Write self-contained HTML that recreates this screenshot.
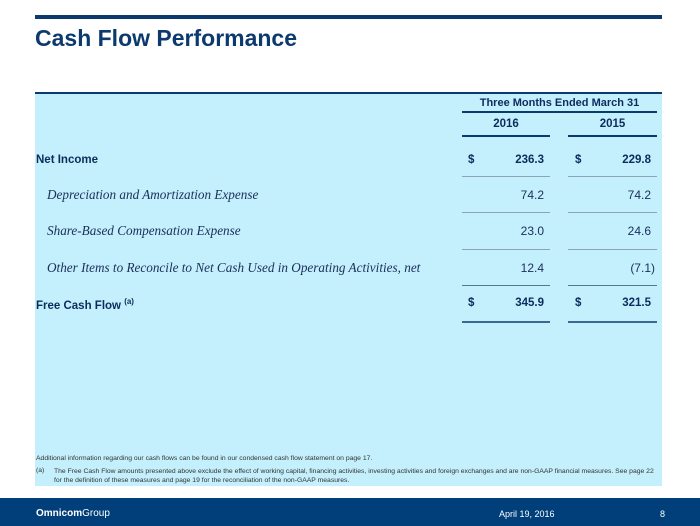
<!DOCTYPE html>
<html><head><style>
body{margin:0;width:700px;height:526px;position:relative;background:#fff;font-family:"Liberation Sans",sans-serif;overflow:hidden}
.a{position:absolute;white-space:nowrap}
.b{font-weight:bold;color:#0b2d5e;font-size:11.5px}
.i{font-family:"Liberation Serif",serif;font-style:italic;color:#1a2f5a;font-size:13.2px}
.n{font-size:12px;color:#1a2f5a;text-align:right}
.ln{position:absolute;height:1px;background:#8aa6b6}
</style></head><body>
<div class="a" style="left:35px;top:15px;width:627px;height:4px;background:#0d3a6e"></div>
<div class="a" style="left:35px;top:25px;font-size:23px;font-weight:bold;color:#0d3a6e">Cash Flow Performance</div>
<div class="a" style="left:35px;top:92px;width:627px;height:394px;background:#c4effc;border-top:2px solid #0d3a6e;box-sizing:border-box"></div>
<div class="a b" style="left:462px;top:97px;width:195px;text-align:center;font-size:11px">Three Months Ended March 31</div>
<div class="a" style="left:462px;top:111px;width:195px;height:2px;background:#0d3a6e"></div>
<div class="a b" style="left:462px;top:118px;width:88px;text-align:center">2016</div>
<div class="a b" style="left:568px;top:118px;width:89px;text-align:center">2015</div>
<div class="a" style="left:462px;top:135px;width:88px;height:2px;background:#0d3a6e"></div>
<div class="a" style="left:568px;top:135px;width:89px;height:2px;background:#0d3a6e"></div>

<div class="a b" style="left:36px;top:154px">Net Income</div>
<div class="a b" style="left:468px;top:154px">$</div><div class="a b" style="left:480px;top:154px;width:64px;text-align:right">236.3</div>
<div class="a b" style="left:575px;top:154px">$</div><div class="a b" style="left:590px;top:154px;width:61px;text-align:right">229.8</div>
<div class="ln" style="left:462px;top:176px;width:88px"></div><div class="ln" style="left:568px;top:176px;width:89px"></div>

<div class="a i" style="left:47px;top:187px">Depreciation and Amortization Expense</div>
<div class="a n" style="left:480px;top:188px;width:64px">74.2</div><div class="a n" style="left:590px;top:188px;width:61px">74.2</div>
<div class="ln" style="left:462px;top:212px;width:88px"></div><div class="ln" style="left:568px;top:212px;width:89px"></div>

<div class="a i" style="left:47px;top:223px">Share-Based Compensation Expense</div>
<div class="a n" style="left:480px;top:224px;width:64px">23.0</div><div class="a n" style="left:590px;top:224px;width:61px">24.6</div>
<div class="ln" style="left:462px;top:249px;width:88px"></div><div class="ln" style="left:568px;top:249px;width:89px"></div>

<div class="a i" style="left:47px;top:260px">Other Items to Reconcile to Net Cash Used in Operating Activities, net</div>
<div class="a n" style="left:480px;top:261px;width:64px">12.4</div><div class="a n" style="left:590px;top:261px;width:65px">(7.1)</div>
<div class="ln" style="left:462px;top:285px;width:88px;background:#4f7a8e"></div><div class="ln" style="left:568px;top:285px;width:89px;background:#4f7a8e"></div>

<div class="a b" style="left:36px;top:297px">Free Cash Flow <sup style="font-size:8px">(a)</sup></div>
<div class="a b" style="left:468px;top:297px">$</div><div class="a b" style="left:480px;top:297px;width:64px;text-align:right">345.9</div>
<div class="a b" style="left:575px;top:297px">$</div><div class="a b" style="left:590px;top:297px;width:61px;text-align:right">321.5</div>
<div class="a" style="left:462px;top:321px;width:88px;height:2px;background:#3a6a90"></div><div class="a" style="left:568px;top:321px;width:89px;height:2px;background:#3a6a90"></div>

<div class="a" style="left:36px;top:455px;font-size:6.8px;color:#333">Additional information regarding our cash flows can be found in our condensed cash flow statement on page 17.</div>
<div class="a" style="left:36px;top:467px;font-size:6.8px;color:#333">(a)</div>
<div class="a" style="left:54px;top:467px;font-size:6.8px;color:#333;line-height:9px">The Free Cash Flow amounts presented above exclude the effect of working capital, financing activities, investing activities and foreign exchanges and are non-GAAP financial measures. See page 22<br>for the definition of these measures and page 19 for the reconciliation of the non-GAAP measures.</div>

<div class="a" style="left:0;top:498px;width:700px;height:28px;background:#003f7a"></div>
<div class="a" style="left:36px;top:508px;font-size:10px;color:#fff"><b>Omnicom</b>Group</div>
<div class="a" style="left:499px;top:509px;font-size:9px;color:#fff">April 19, 2016</div>
<div class="a" style="left:660px;top:509px;font-size:9px;color:#fff">8</div>
</body></html>
